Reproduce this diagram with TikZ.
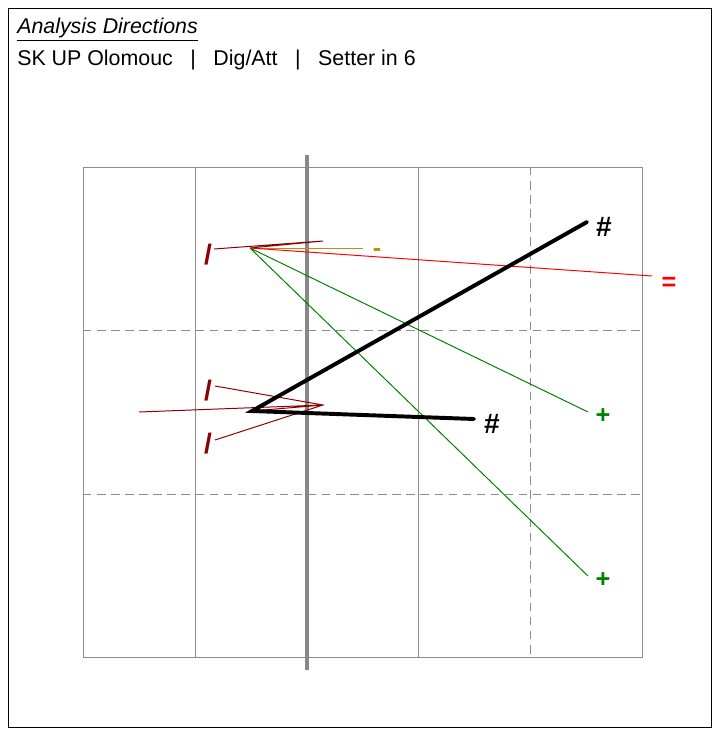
\documentclass[tikz,border=0pt]{standalone}
\usepackage{fontspec}
\setmainfont{Liberation Sans}
\usepackage{xcolor}
\usepackage{tikz}
\definecolor{ink}{HTML}{000000}
\definecolor{netgray}{HTML}{888888}
\definecolor{courtgray}{HTML}{8C8C8C}
\definecolor{darkerr}{HTML}{8B0000}
\definecolor{green}{HTML}{008000}
\definecolor{red}{HTML}{FF0000}
\definecolor{gold}{HTML}{BF8F0A}

\begin{document}
\begin{tikzpicture}[x=0.025cm,y=-0.025cm,every node/.style={font=\fontsize{15.2}{18}\selectfont},
    sym/.style={font=\fontsize{18}{20}\selectfont\bfseries,inner sep=0pt},
    thinline/.style={line width=0.7pt},
    attack/.style={line width=2.8pt,ink,line cap=round}]
        \useasboundingbox (0,0) rectangle (712,729);
        \draw[line width=0.7pt] (8,8) rectangle (711,727);
        \node[anchor=base west,inner sep=0pt] (title) at (17,34) {\underline{\textit{Analysis Directions}}};
        \node[anchor=base west,inner sep=0pt] (info) at (17,66) {SK UP Olomouc\hspace{0.82em}|\hspace{0.82em}Dig/Att\hspace{0.82em}|\hspace{0.82em}Setter in 6};
        % court
        \draw[courtgray,line width=0.6pt] (83,167) rectangle (642,657);
        \draw[courtgray,line width=0.6pt] (195,167) -- (195,657) (418,167) -- (418,657);
        \draw[courtgray,line width=0.6pt,dash pattern=on 6pt off 4pt] (530,167) -- (530,657) (83,330) -- (642,330) (83,494) -- (642,494);
        \draw[netgray,line width=2.8pt] (307,155) -- (307,670);
        % first contact
        \coordinate (a0) at (250,248);
        \coordinate (a1) at (323,241);
        \coordinate (a2) at (214,249);
        \coordinate (aout) at (363,248);
        \coordinate (aerr) at (652,276);
        \coordinate (awin1) at (588,412);
        \coordinate (awin2) at (588,576);
        \draw[darkerr,thinline] (a2) -- (a1) -- (a0);
        \draw[gold,thinline] (a0) -- (aout);
        \draw[red,thinline] (a0) -- (aerr);
        \draw[green,thinline] (a0) -- (awin1) (a0) -- (awin2);
        \node[sym,darkerr] (slashA) at (208,255) {\fontsize{20}{21}\selectfont /};
        \node[sym,gold] (minus) at (377,252) {-};
        \node[sym,red] (equal) at (669,284) {=};
        \node[sym,green] (plusA) at (603,416) {+};
        \node[sym,green] (plusB) at (603,580) {+};
        % second contact
        \coordinate (b0) at (252,411);
        \coordinate (b1) at (323,405);
        \coordinate (b2) at (139,412);
        \coordinate (b3) at (215,386);
        \coordinate (b4) at (215,440);
        \coordinate (bkill1) at (587,222);
        \coordinate (bkill2) at (474,419);
        \draw[darkerr,thinline] (b2) -- (b1) -- (b0) (b3) -- (b1) -- (b4);
        \draw[attack] (bkill1) -- (b0) -- (bkill2);
        \node[sym,darkerr] (slashB) at (208,391) {\fontsize{20}{21}\selectfont /};
        \node[sym,darkerr] (slashC) at (208,444) {\fontsize{20}{21}\selectfont /};
        \node[sym,ink] (hashA) at (604,227) {\fontsize{20}{21}\selectfont\#};
        \node[sym,ink] (hashB) at (492,424) {\fontsize{20}{21}\selectfont\#};
      \end{tikzpicture}
\end{document}
